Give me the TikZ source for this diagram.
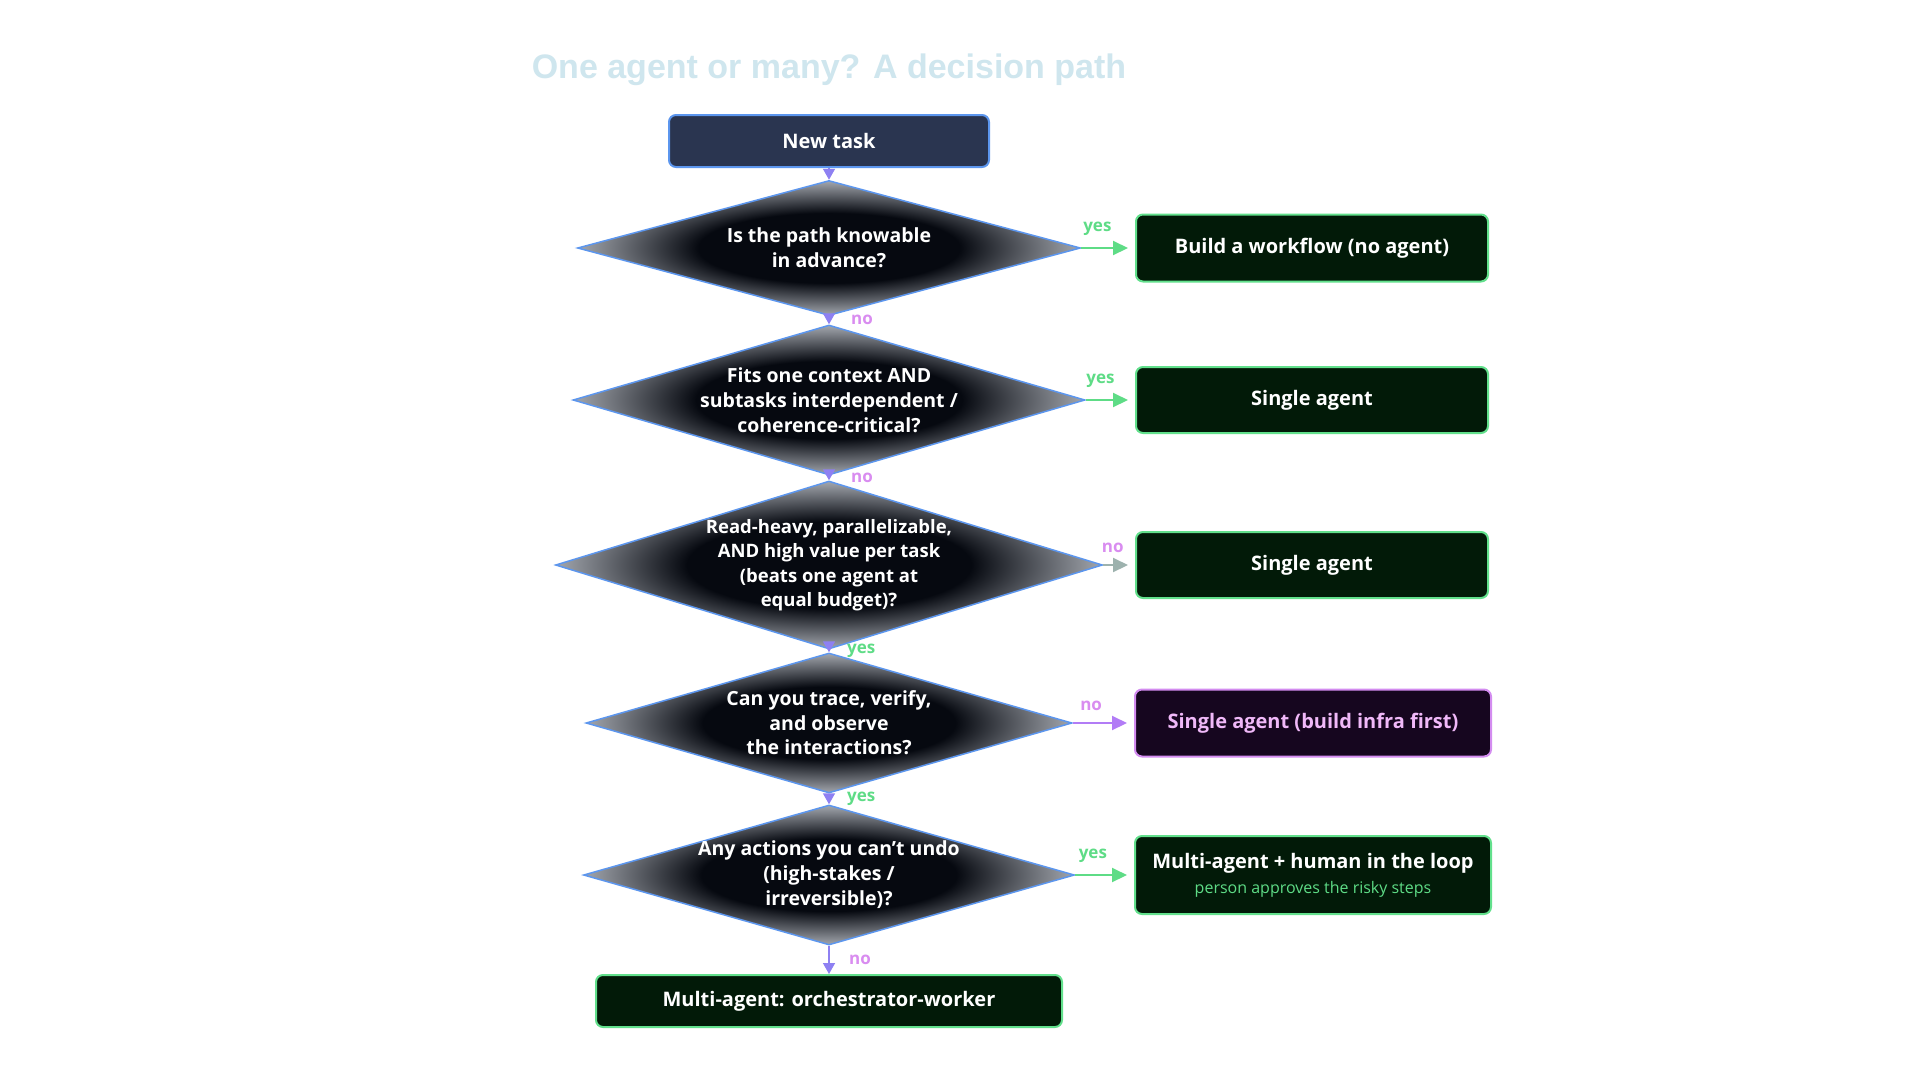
\documentclass[tikz,border=0pt]{standalone}
\usepackage{fontspec}
\setmainfont{Open Sans}
\newfontfamily\titlefont{Liberation Sans}
\usetikzlibrary{shapes.geometric,arrows.meta}
\definecolor{askdark}{HTML}{060910}
\definecolor{askgray}{HTML}{A3A7AE}
\definecolor{askline}{HTML}{5C96EE}
\definecolor{okline}{HTML}{62E08C}
\definecolor{okfill}{HTML}{021A08}
\definecolor{infline}{HTML}{D38CF0}
\definecolor{inffill}{HTML}{16061F}
\definecolor{inftext}{HTML}{F0B8F8}
\definecolor{infarrow}{HTML}{B27CF6}
\definecolor{yescol}{HTML}{5EDC86}
\definecolor{nocol}{HTML}{D98CF0}
\definecolor{downcol}{HTML}{8E80F2}
\definecolor{taskfill}{HTML}{2A3550}
\definecolor{titlecol}{HTML}{CFE6EE}
\definecolor{greyarrow}{HTML}{9DB2AE}
\pgfdeclareradialshading{askshade}{\pgfpoint{0bp}{0bp}}{color(0bp)=(askdark); color(13bp)=(askdark); color(25bp)=(askgray); color(50bp)=(askgray)}
\begin{document}
\begin{tikzpicture}[x=1pt, y=-1pt,
  ask/.style={diamond, shading=askshade, draw=askline, line width=1.5pt, inner sep=0pt},
  asktext/.style={text=white, align=center, font=\bfseries\fontsize{19.5}{25}\selectfont},
  task/.style={rectangle, rounded corners=7pt, fill=taskfill, draw=askline, line width=2pt,
    text=white, font=\bfseries\fontsize{20}{24}\selectfont, minimum width=320pt, minimum height=52pt},
  done/.style={rectangle, rounded corners=7pt, fill=okfill, draw=okline, line width=2pt,
    text=white, align=center, font=\bfseries\fontsize{20}{24}\selectfont},
  infra/.style={done, fill=inffill, draw=infline, text=inftext},
  down/.style={color=downcol, line width=1.5pt, -{Triangle[length=11pt, width=12pt]}},
  side/.style={line width=2pt, shorten >=7pt, -{Triangle[length=15pt, width=14pt]}},
  yeslab/.style={text=yescol, font=\bfseries\fontsize{17}{19}\selectfont},
  nolab/.style={text=nocol, font=\bfseries\fontsize{17}{19}\selectfont}]
  \useasboundingbox[fill=white] (0,0) rectangle (1920,1080);

  \node[text=titlecol, font=\titlefont\bfseries\fontsize{34}{38}\selectfont] (title) at (829,70)
    {One agent or many? A decision path};

  \node[task] (new) at (829,141) {New task};
  \node[ask, minimum width=503pt, minimum height=135pt] (q1) [below of=new, node distance=107pt] {};
  \node[ask, minimum width=512pt, minimum height=150pt] (q2) [below of=q1, node distance=152pt] {};
  \node[ask, minimum width=547pt, minimum height=168pt] (q3) [below of=q2, node distance=165pt] {};
  \node[ask, minimum width=486pt, minimum height=140pt] (q4) [below of=q3, node distance=158pt] {};
  \node[ask, minimum width=491pt, minimum height=140pt] (q5) [below of=q4, node distance=152pt] {};
  \node[done, minimum width=466pt, minimum height=52pt] (multi) [below of=q5, node distance=126pt]
    {Multi-agent: orchestrator-worker};

  % questions
  \node[asktext] (t1) at (q1) {Is the path knowable\\in advance?};
  \node[asktext] (t2) at (q2) {Fits one context AND\\subtasks interdependent /\\coherence-critical?};
  \node[asktext, font=\bfseries\fontsize{18.5}{24.5}\selectfont] (t3) at (q3)
    {Read-heavy, parallelizable,\\AND high value per task\\(beats one agent at\\equal budget)?};
  \node[asktext, font=\bfseries\fontsize{19.5}{24.5}\selectfont] (t4) at (q4)
    {Can you trace, verify,\\and observe\\the interactions?};
  \node[asktext] (t5) at (q5)
    {Any actions you can't undo\\(high-stakes /\\irreversible)?};

  % outcomes
  \node[done, minimum width=352pt, minimum height=67pt] (r1) [right of=q1, node distance=483pt]
    {Build a workflow (no agent)};
  \node[done, minimum width=352pt, minimum height=66pt] (r2) [right of=q2, node distance=483pt]
    {Single agent};
  \node[done, minimum width=352pt, minimum height=66pt] (r3) [right of=q3, node distance=483pt]
    {Single agent};
  \node[infra, minimum width=356pt, minimum height=67pt] (r4) [right of=q4, node distance=484pt]
    {Single agent (build infra first)};
  \node[done, minimum width=356pt, minimum height=78pt] (r5) [right of=q5, node distance=484pt]
    {Multi-agent + human in the loop\\[1pt]
     {\mdseries\fontsize{16}{18}\selectfont\color{yescol}person approves the risky steps}};

  \path[down] (new) edge (q1)
              (q1) edge node[nolab, right=18pt] {no} (q2)
              (q2) edge node[nolab, right=18pt] {no} (q3)
              (q3) edge node[yeslab, right=14pt] {yes} (q4)
              (q4) edge node[yeslab, right=14pt] {yes} (q5)
              (q5) edge node[nolab, right=16pt] {no} (multi);
  \path[side, color=yescol] (q1) edge node[yeslab, above=8pt, pos=0.3] {yes} (r1)
                            (q2) edge node[yeslab, above=8pt, pos=0.3] {yes} (r2)
                            (q5) edge node[yeslab, above=8pt, pos=0.3] {yes} (r5);
  \path[side, color=greyarrow] (q3) edge node[nolab, above=8pt, pos=0.3] {no} (r3);
  \path[side, color=infarrow] (q4) edge node[nolab, above=8pt, pos=0.3] {no} (r4);
\end{tikzpicture}
\end{document}
